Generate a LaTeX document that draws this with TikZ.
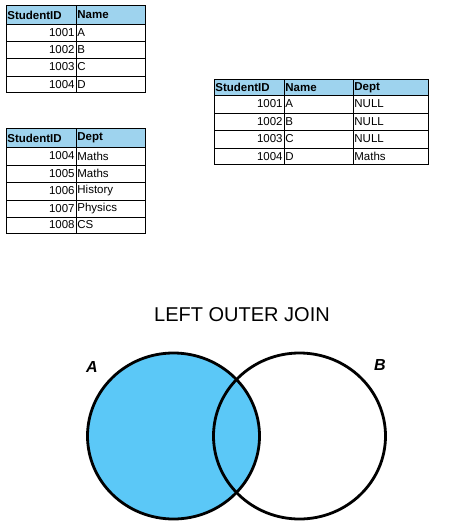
\documentclass[tikz,border=0pt]{standalone}
\usepackage{fontspec}
\setmainfont{Liberation Sans}
\usetikzlibrary{positioning,shapes.geometric}
\definecolor{headblue}{RGB}{158,211,238}
\definecolor{joinblue}{RGB}{91,200,247}

\begin{document}
\begin{tikzpicture}[x=1pt,y=-1pt,
  cell/.style={font=\fontsize{11.5}{13}\selectfont, inner sep=1.2pt},
  numcell/.style={cell, anchor=east},
  txtcell/.style={cell, anchor=west},
  headcell/.style={cell, anchor=west, font=\fontsize{11.5}{13}\selectfont\bfseries},
  grid/.style={line width=0.6pt},
  frame/.style={line width=1pt},
  venn/.style={ellipse, draw, line width=2.8pt, inner sep=0pt,
    minimum width=172pt, minimum height=166pt},
  setlabel/.style={font=\fontsize{16}{18}\selectfont\bfseries\itshape}]
  \useasboundingbox (0,0) rectangle (474,529);

  % students table
  \fill[headblue] (6,6) rectangle (145,24);
  \foreach \y in {24,41,58,76} \draw[grid] (6,\y) -- (145,\y);
  \draw[grid] (76,6) -- (76,93);
  \draw[frame] (6,6) rectangle (145,93);
  \node[headcell] (stuHid) at (6,15) {StudentID};
  \node[headcell] (stuHname) at (76,15) {Name};
  \foreach \id/\nm/\y in {1001/A/32.5,1002/B/49.5,1003/C/67,1004/D/84.5} {
    \node[numcell] (stu\id) at (76,\y) {\id};
    \node[txtcell] (stuname\id) at (76,\y) {\nm};
  }

  % departments table
  \fill[headblue] (6,129) rectangle (145,147);
  \foreach \y in {147,165,182,200,217} \draw[grid] (6,\y) -- (145,\y);
  \draw[grid] (76,129) -- (76,233);
  \draw[frame] (6,129) rectangle (145,233);
  \node[headcell] (depHid) at (6,138) {StudentID};
  \node[headcell] (depHdept) at (76,138) {Dept};
  \foreach \id/\dept/\y in {1004/Maths/156,1005/Maths/173.5,1006/History/191,
                            1007/Physics/208.5,1008/CS/225} {
    \node[numcell] (dep\id) at (76,\y) {\id};
    \node[txtcell] (depname\id) at (76,\y) {\dept};
  }

  % result of the left outer join
  \fill[headblue] (214,80) rectangle (428,95);
  \foreach \y in {95,113,130,148} \draw[grid] (214,\y) -- (428,\y);
  \foreach \x in {284,353} \draw[grid] (\x,80) -- (\x,165);
  \draw[frame] (214,80) rectangle (428,165);
  \node[headcell] (resHid) at (214,87.5) {StudentID};
  \node[headcell] (resHname) at (284,87.5) {Name};
  \node[headcell] (resHdept) at (353,87.5) {Dept};
  \foreach \id/\nm/\dept/\y in {1001/A/NULL/104,1002/B/NULL/121.5,
                                1003/C/NULL/139,1004/D/Maths/156.5} {
    \node[numcell] (res\id) at (284,\y) {\id};
    \node[txtcell] (resname\id) at (284,\y) {\nm};
    \node[txtcell] (resdept\id) at (353,\y) {\dept};
  }

  % venn diagram
  \node[font=\fontsize{20}{24}\selectfont] (title) at (242,315) {LEFT OUTER JOIN};
  \node[venn, fill=joinblue] (setA) at (173.5,436) {};
  \node[venn] (setB) at (299.5,436) {};
  \node[setlabel] (labA) at (92,367) {A};
  \node[setlabel] (labB) at (380,365) {B};
\end{tikzpicture}
\end{document}
